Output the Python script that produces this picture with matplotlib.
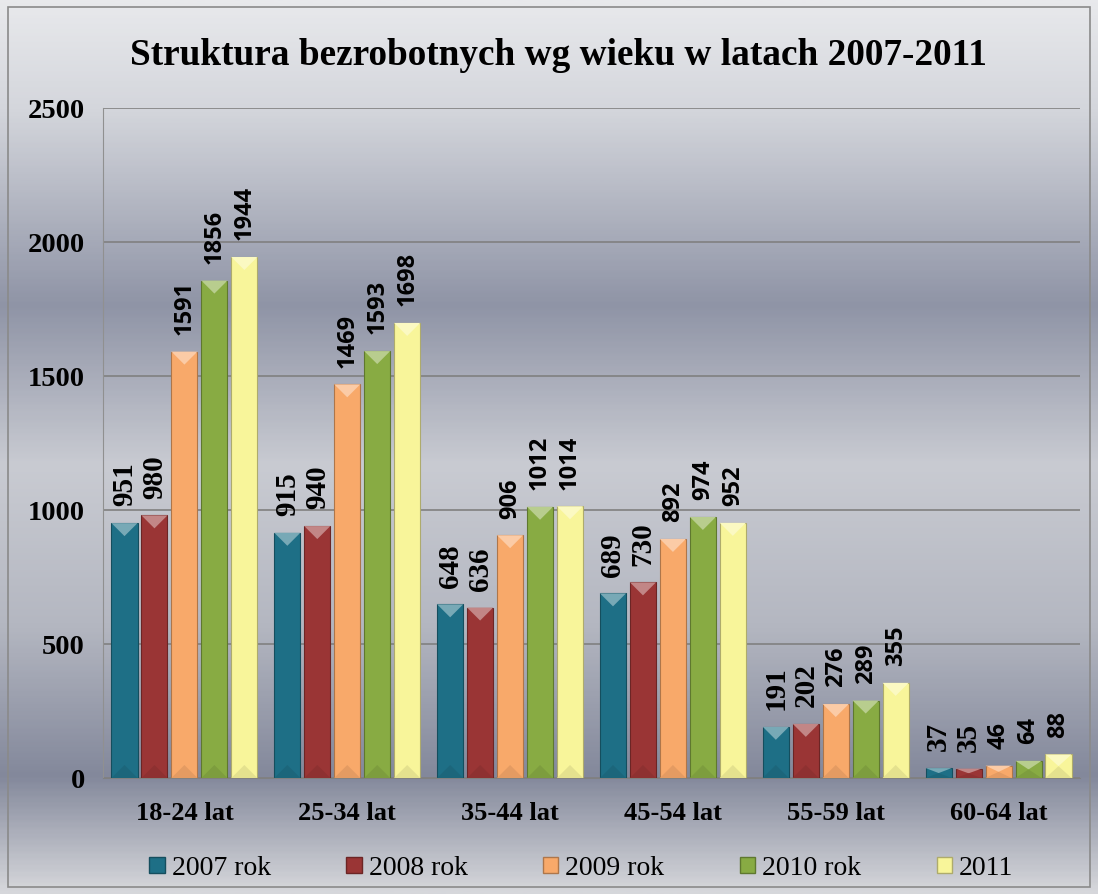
import numpy as np
import matplotlib.pyplot as plt
from matplotlib.colors import LinearSegmentedColormap, to_rgb
from matplotlib.patches import Polygon, Rectangle, Patch

# data
groups = ['18-24 lat', '25-34 lat', '35-44 lat', '45-54 lat', '55-59 lat', '60-64 lat']
series = ['2007 rok', '2008 rok', '2009 rok', '2010 rok', '2011']
v2007 = [951, 915, 648, 689, 191, 37]
v2008 = [980, 940, 636, 730, 202, 35]
v2009 = [1591, 1469, 906, 892, 276, 46]
v2010 = [1856, 1593, 1012, 974, 289, 64]
v2011 = [1944, 1698, 1014, 952, 355, 88]
values = [v2007, v2008, v2009, v2010, v2011]
colors = ['#1e6f86', '#9a3535', '#f8a96a', '#88ab43', '#f8f59a']

serif = 'Liberation Serif'
# the first two series have their labels in a serif face, the rest in a sans face
label_fonts = [(serif, 21), (serif, 21), ('Open Sans', 17), ('Open Sans', 17), ('Open Sans', 17)]

fig = plt.figure(figsize=(10.98, 8.94), dpi=100)

# silver background gradient
bg = fig.add_axes([0, 0, 1, 1], zorder=-10)
bg_cmap = LinearSegmentedColormap.from_list('silver', [
    (0.0, '#e8e9ec'), (0.12, '#d4d6dc'), (0.34, '#8f94a6'), (0.52, '#c9cbd2'),
    (0.70, '#b4b7c1'), (0.87, '#83889b'), (1.0, '#d6d7db')])
bg.imshow(np.linspace(0, 1, 400).reshape(-1, 1), aspect='auto', cmap=bg_cmap,
          extent=[0, 1, 0, 1], origin='upper')
bg.add_patch(Rectangle((0.007, 0.008), 0.986, 0.984, fill=False, ec='#8a8a8a', lw=1.2,
                       transform=bg.transAxes))
bg.axis('off')

ax = fig.add_axes([103 / 1098, 116 / 894, 977 / 1098, 670 / 894])
ax.set_facecolor('none')

x = np.arange(len(groups))
step = 0.184
w = 0.16
ylim = 2500
px_per_unit = 670 / ylim
for i, (vals, col) in enumerate(zip(values, colors)):
    xs = x + (i - 2) * step
    rgb = np.array(to_rgb(col))
    bars = ax.bar(xs, vals, width=w, color=col, edgecolor=rgb * 0.7,
                  linewidth=0.8, zorder=3)
    light = np.clip(rgb * 0.6 + 0.4, 0, 1)
    dark = rgb * 0.92
    fam, fs = label_fonts[i]
    for b in bars:
        bx, bw, bh = b.get_x(), b.get_width(), b.get_height()
        d = min(13 / px_per_unit, bh / 2)
        ax.add_patch(Polygon([(bx, bh), (bx + bw, bh), (bx + bw / 2, bh - d)],
                             closed=True, fc=light, ec='none', zorder=4))
        ax.add_patch(Polygon([(bx, 0), (bx + bw, 0), (bx + bw / 2, d)],
                             closed=True, fc=dark, ec='none', zorder=4))
        ax.annotate(f'{int(bh)}', (bx + bw / 2, bh), xytext=(0, 12),
                    textcoords='offset points', rotation=90, ha='center', va='bottom',
                    fontsize=fs, fontweight='bold', family=fam, color='black')

ax.set_xlim(-0.5, len(groups) - 0.5)
ax.set_ylim(0, ylim)
ax.set_yticks(np.arange(0, 2501, 500))
ax.grid(axis='y', color='#808080', lw=1.2, zorder=0)
ax.tick_params(length=0)
ax.tick_params(axis='y', pad=13)
ax.tick_params(axis='x', pad=17)
for s in ['top', 'right']:
    ax.spines[s].set_visible(False)
ax.spines['left'].set_color('#909090')
ax.spines['bottom'].set_color('#808080')
ax.set_xticks(x)
ax.set_xticklabels(groups, family=serif, fontweight='bold', fontsize=19)
for t in ax.get_yticklabels():
    t.set_family(serif)
    t.set_fontweight('bold')
    t.set_fontsize(20.5)

fig.text(0.509, 0.938, 'Struktura bezrobotnych wg wieku w latach 2007-2011',
         ha='center', va='center', family=serif, fontweight='bold', fontsize=26.8)

handles = [Patch(fc=c, ec=np.array(to_rgb(c)) * 0.7) for c in colors]
leg = ax.legend(handles, series, loc='center left', bbox_to_anchor=(0.022, -0.135), ncol=5,
                frameon=False, prop={'family': serif, 'size': 20}, handlelength=0.55,
                handleheight=0.55, handletextpad=0.25, columnspacing=2.72)

fig.savefig('out.png', dpi=100)
